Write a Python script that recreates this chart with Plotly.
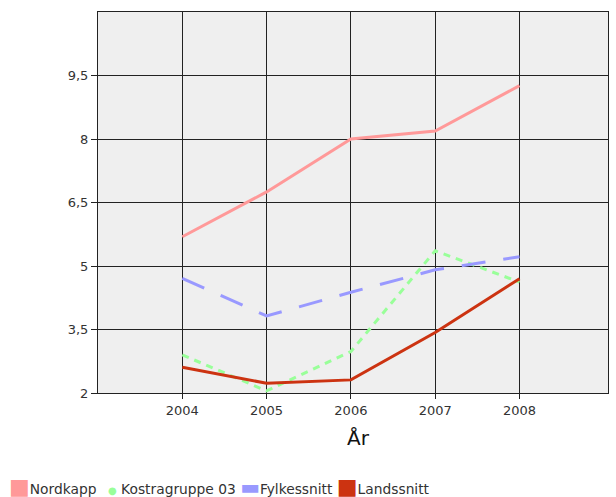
import plotly.graph_objects as go

years = [2004, 2005, 2006, 2007, 2008]
nordkapp = [5.69, 6.75, 8.0, 8.19, 9.26]
kostragruppe = [2.9, 2.05, 2.98, 5.36, 4.62]
fylkessnitt = [4.71, 3.82, 4.38, 4.91, 5.22]
landssnitt = [2.61, 2.23, 2.31, 3.43, 4.7]
y_ticks = [2, 3.5, 5, 6.5, 8, 9.5]
y_tick_labels = ["2", "3,5", "5", "6,5", "8", "9,5"]
series_names = ["Nordkapp", "Kostragruppe 03", "Fylkessnitt", "Landssnitt"]
x_title = "År"

colors = ["#ff9999", "#99ff99", "#9999ff", "#cc3311"]
dashes = ["solid", "7px,6px", "24px,18px", "solid"]
legend_glyphs = ["■", "●", "▬", "■"]
legend_glyph_sizes = [22, 10, 21, 22]
legend_pre = ["", "\u00a0\u00a0\u2009", "\u00a0", "\u00a0"]
legend_post = ["", "\u00a0", "", ""]

fig = go.Figure()
for name, vals, col, dash in zip(series_names, [nordkapp, kostragruppe, fylkessnitt, landssnitt], colors, dashes):
    fig.add_trace(go.Scatter(x=years, y=vals, mode="lines", name=name,
                             line=dict(color=col, width=3, dash=dash),
                             showlegend=False))

# legend drawn as one rich-text annotation
parts = []
for name, g, gs, col, pre, post in zip(series_names, legend_glyphs, legend_glyph_sizes, colors,
                                       legend_pre, legend_post):
    parts.append(f'{pre}<span style="color:{col};font-size:{gs}px">{g}</span>{post}{name}')
legend_text = "".join(parts)
fig.add_annotation(text=legend_text, xref="paper", yref="paper", x=-0.178, y=-0.246,
                   xanchor="left", yanchor="middle", showarrow=False,
                   font=dict(family="DejaVu Sans", size=13.8, color="#333333"))

# x-axis title
fig.add_annotation(text=x_title, xref="paper", yref="paper", x=0.51, y=-0.118,
                   xanchor="center", yanchor="middle", showarrow=False,
                   font=dict(family="DejaVu Sans", size=20, color="#111111"))

fig.update_layout(
    width=616, height=497,
    margin=dict(l=98, r=8, t=12, b=104, autoexpand=False),
    paper_bgcolor="white",
    plot_bgcolor="#efefef",
    font=dict(family="DejaVu Sans", size=13, color="#333333"),
    showlegend=False,
    xaxis=dict(range=[2003, 2009.05], tickvals=years, ticktext=[str(y) for y in years],
               showgrid=True, gridcolor="#222222", gridwidth=1,
               showline=True, linecolor="#222222", linewidth=1, mirror=True,
               ticks="outside", ticklen=5, tickcolor="#222222", zeroline=False),
    yaxis=dict(range=[2, 11], tickvals=y_ticks, ticktext=y_tick_labels,
               showgrid=True, gridcolor="#222222", gridwidth=1,
               showline=True, linecolor="#222222", linewidth=1, mirror=True,
               ticks="outside", ticklen=6, tickcolor="#222222", zeroline=False),
)

fig.write_html("out.html", config={"displayModeBar": False},
               post_script="document.body.style.margin='0px';")
